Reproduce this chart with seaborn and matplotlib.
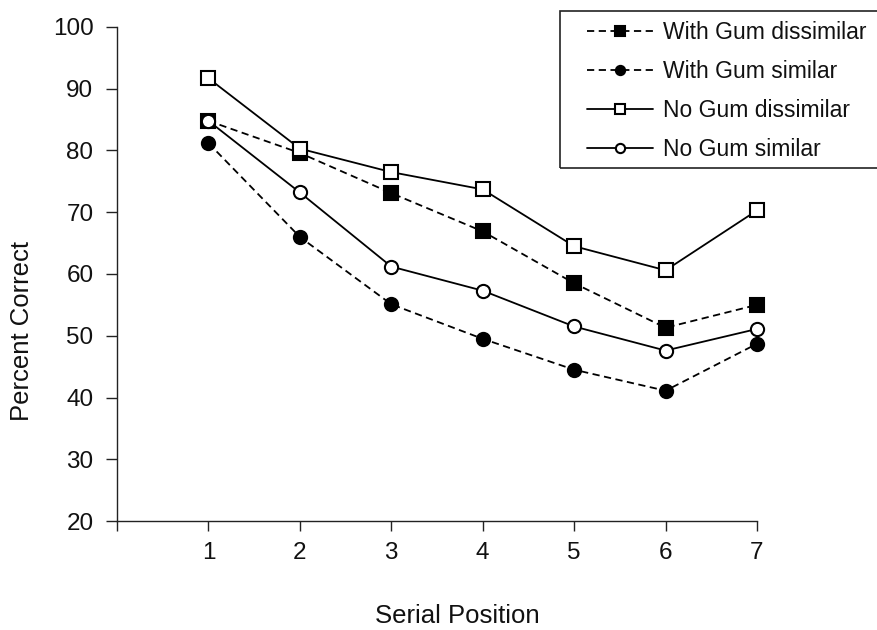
import matplotlib
matplotlib.use('Agg')
import matplotlib.pyplot as plt
from matplotlib.patches import Rectangle
import seaborn as sns

posicoes = [1, 2, 3, 4, 5, 6, 7]
with_gum_dissimilar = [84.8, 79.6, 73.1, 66.9, 58.5, 51.3, 55.0]
with_gum_similar = [81.2, 66.0, 55.1, 49.5, 44.5, 41.1, 48.7]
no_gum_dissimilar = [91.7, 80.3, 76.5, 73.7, 64.5, 60.6, 70.3]
no_gum_similar = [84.8, 73.2, 61.2, 57.3, 51.5, 47.6, 51.1]
nomes = ['With Gum dissimilar', 'With Gum similar', 'No Gum dissimilar', 'No Gum similar']
y_ticks = [20, 30, 40, 50, 60, 70, 80, 90, 100]
x_ticks = [0, 1, 2, 3, 4, 5, 6, 7]
x_labels = ['', '1', '2', '3', '4', '5', '6', '7']

sns.set_theme(style="white")
plt.rcParams['font.family'] = ['Liberation Sans', 'DejaVu Sans']

fig = plt.figure(figsize=(8.78, 6.3), dpi=100)
ax = fig.add_axes([117/878, 1-521/630, 640/878, 494/630])

tracejado = (0, (4, 2.5))
series = [
    (with_gum_dissimilar, 's', 'black', tracejado),
    (with_gum_similar, 'o', 'black', tracejado),
    (no_gum_dissimilar, 's', 'white', '-'),
    (no_gum_similar, 'o', 'white', '-'),
]
for (valores, marcador, preenchimento, estilo), nome in zip(series, nomes):
    sns.lineplot(x=posicoes, y=valores, ax=ax, color='black', linewidth=1.3,
                 linestyle=estilo, marker=marcador, markersize=9.5,
                 markerfacecolor=preenchimento, markeredgecolor='black',
                 markeredgewidth=1.5, label=nome, clip_on=False, zorder=3)

ax.set_xlim(0, 7)
ax.set_ylim(20, 100)
ax.set_xticks(x_ticks)
ax.set_xticklabels(x_labels)
ax.set_yticks(y_ticks)
sns.despine(ax=ax)
for lado in ['left', 'bottom']:
    ax.spines[lado].set_color('#222222')
    ax.spines[lado].set_linewidth(1.0)
ax.tick_params(axis='y', direction='out', length=8, width=1, color='#222222',
               labelsize=17.5, pad=9, left=True, labelcolor='#111111')
ax.tick_params(axis='x', direction='out', length=7, width=1, color='#222222',
               labelsize=17.5, pad=8, bottom=True, labelcolor='#111111')

ax.set_xlabel('')
ax.set_ylabel('')
fig.text(457/878, 1-616/630, 'Serial Position', fontsize=18.5,
         ha='center', va='center', color='#111111')
fig.text(22/878, 1-331/630, 'Percent Correct', fontsize=18.5, rotation=90,
         ha='center', va='center', color='#111111')

leg = ax.legend(loc='upper left', bbox_to_anchor=(587/878, 1-21/630),
                bbox_transform=fig.transFigure, frameon=False, fontsize=16.5,
                handlelength=2.9, handletextpad=0.42, labelspacing=0.7,
                borderpad=0, borderaxespad=0, markerscale=0.7)
for texto in leg.get_texts():
    texto.set_color('#111111')
fig.add_artist(Rectangle((560/878, 1-168/630), 330/878, 157/630,
                         transform=fig.transFigure, fill=False,
                         edgecolor='#222222', linewidth=1.2))

plt.savefig('out.png', dpi=100)
